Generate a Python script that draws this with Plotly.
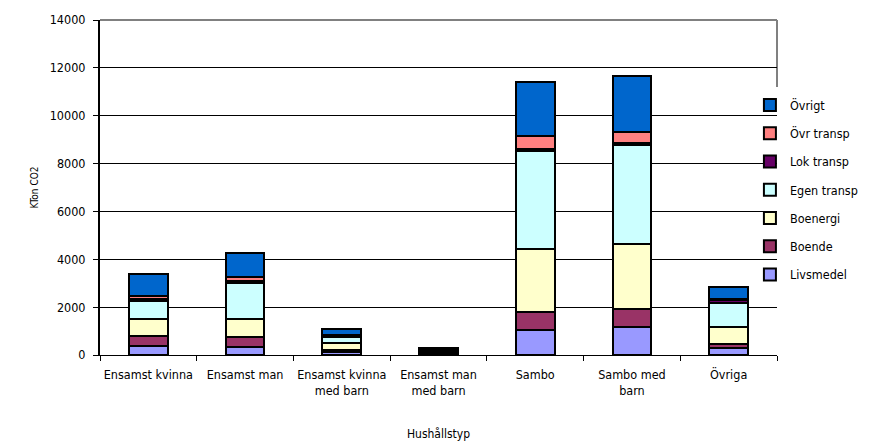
import plotly.graph_objects as go

categories = ["Ensamst kvinna", "Ensamst man", "Ensamst kvinna<br>med barn",
              "Ensamst man<br>med barn", "Sambo", "Sambo med<br>barn", "Övriga"]

livsmedel   = [380, 350, 120, 50, 1050, 1190, 300]
boende      = [420, 390, 110, 40, 740, 750, 170]
boenergi    = [720, 750, 260, 60, 2650, 2700, 720]
egen_transp = [740, 1530, 260, 60, 4070, 4120, 1000]
lok_transp  = [80, 80, 60, 10, 100, 90, 120]
ovr_transp  = [140, 180, 30, 10, 560, 470, 50]
ovrigt      = [900, 970, 250, 50, 2250, 2320, 490]

series = [
    ("Livsmedel", livsmedel, "#9999FF"),
    ("Boende", boende, "#993366"),
    ("Boenergi", boenergi, "#FFFFCC"),
    ("Egen transp", egen_transp, "#CCFFFF"),
    ("Lok transp", lok_transp, "#660066"),
    ("Övr transp", ovr_transp, "#FF8080"),
    ("Övrigt", ovrigt, "#0066CC"),
]

FONT = "DejaVu Sans Condensed, Liberation Sans Narrow, sans-serif"

fig = go.Figure()
n = len(series)
for i, (name, vals, col) in enumerate(series):
    fig.add_trace(go.Bar(
        x=categories, y=vals, name=name, legendgroup=name,
        legendrank=n - i,
        marker=dict(color=col, line=dict(color="black", width=2)),
        width=0.4,
    ))

fig.update_layout(
    barmode="stack",
    width=877, height=441,
    margin=dict(l=100, r=100, t=20, b=86),
    plot_bgcolor="white", paper_bgcolor="white",
    font=dict(family=FONT, size=12, color="black"),
    showlegend=True,
    legend=dict(
        x=0.96, xanchor="left", y=0.79, yanchor="top",
        traceorder="grouped", tracegroupgap=9,
        bgcolor="rgba(0,0,0,0)", font=dict(size=12.5),
        itemwidth=30,
    ),
    xaxis=dict(
        showline=True, linecolor="black", linewidth=1,
        ticks="outside", tickson="boundaries", ticklen=5, tickcolor="black",
        tickangle=0, ticklabelstandoff=8,
        tickfont=dict(size=12.5),
        title=dict(text="Hushållstyp", font=dict(size=12), standoff=32),
        automargin=False,
    ),
    yaxis=dict(
        range=[0, 14000], dtick=2000, tickformat="d",
        showline=True, linecolor="black", linewidth=2,
        showgrid=True, gridcolor="black", gridwidth=1,
        ticks="outside", ticklen=5, tickcolor="black",
        ticklabelstandoff=5,
        tickfont=dict(size=12.5),
        title=dict(text="KTon CO2", font=dict(size=10), standoff=9),
        automargin=False,
    ),
)

fig.add_shape(type="line", xref="paper", yref="paper", x0=0, x1=1, y0=1, y1=1,
              line=dict(color="#808080", width=2), layer="above")
fig.add_shape(type="line", xref="paper", yref="paper", x0=1, x1=1, y0=0.8, y1=1,
              line=dict(color="#808080", width=2), layer="below")

post = "document.body.style.margin='0';document.body.style.overflow='hidden';"
fig.write_html("out.html", post_script=post,
               config={"responsive": False, "displayModeBar": False})
